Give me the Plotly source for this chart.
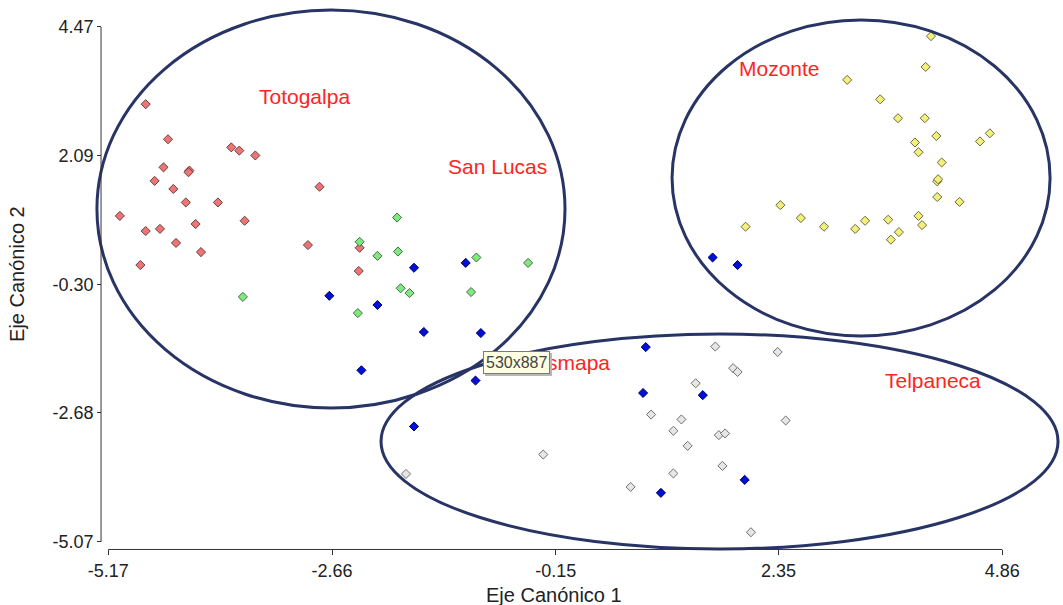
import plotly.graph_objects as go

# ---- data (canonical scores) ----
red_x = [-4.75, -4.50, -3.79, -3.70, -3.52, -4.55, -4.26, -4.27, -4.65, -4.44, -2.80, -4.30, -3.94,
         -5.04, -3.64, -4.75, -4.59, -4.19, -4.41, -4.13, -2.93, -4.81, -2.35, -2.36]
red_y = [3.04, 2.39, 2.24, 2.18, 2.09, 1.87, 1.81, 1.78, 1.62, 1.47, 1.51, 1.22, 1.22,
         0.97, 0.88, 0.69, 0.73, 0.82, 0.47, 0.30, 0.43, 0.06, 0.38, -0.05]

green_x = [-1.93, -2.35, -2.15, -1.92, -1.04, -0.46, -1.89, -1.79, -1.10, -2.37, -3.66]
green_y = [0.94, 0.49, 0.23, 0.31, 0.20, 0.10, -0.37, -0.46, -0.44, -0.83, -0.53]

blue_x = [-1.74, -1.16, -2.69, -2.15, -1.63, -0.99, -2.33, -1.05, -1.74, 0.86, 0.83, 1.50, 1.97, 1.03, 1.61, 1.89]
blue_y = [0.01, 0.10, -0.51, -0.68, -1.18, -1.20, -1.89, -2.08, -2.93, -1.46, -2.31, -2.35, -3.92, -4.16, 0.20, 0.06]

gray_x = [-0.29, -1.83, 1.64, 2.34, 1.84, 1.89, 1.42, 0.92, 1.26, 2.43, 1.17, 1.68, 1.75, 1.33, 1.72, 1.17, 0.69, 2.04]
gray_y = [-3.45, -3.81, -1.45, -1.55, -1.85, -1.92, -2.13, -2.71, -2.80, -2.82, -3.01, -3.09, -3.06, -3.29, -3.66, -3.80, -4.05, -4.89]

yellow_x = [4.06, 4.00, 3.12, 3.49, 3.69, 3.99, 4.12, 4.72, 4.61, 3.88, 3.92, 4.18, 4.13, 4.14, 4.13, 4.38,
            2.37, 2.60, 1.98, 2.86, 3.21, 3.32, 3.58, 3.92, 3.96, 3.70, 3.61]
yellow_y = [4.30, 3.73, 3.49, 3.13, 2.78, 2.78, 2.45, 2.50, 2.35, 2.33, 2.15, 1.96, 1.61, 1.65, 1.32, 1.23,
            1.17, 0.93, 0.77, 0.77, 0.73, 0.88, 0.90, 0.97, 0.80, 0.67, 0.53]

x_ticks = [-5.17, -2.66, -0.15, 2.35, 4.86]
y_ticks = [-5.07, -2.68, -0.30, 2.09, 4.47]

# group labels (the "Cu" of the last one is hidden by a tooltip in the reference)
group_names = ["Totogalpa", "San Lucas", "Mozonte", "Telpaneca", "smapa"]
group_label_x = [-3.50, -1.38, 1.88, 3.52, 0.48]
group_label_y = [3.19, 1.88, 3.71, -2.07, -1.74]
group_label_anchor = ["left", "left", "left", "left", "right"]

# ellipse extents (x0, x1, y0, y1)
ellipses = [
    (-5.297, -0.046, -2.588, 4.785),
    (1.155, 5.396, -1.254, 4.60),
    (-2.110, 5.485, -5.20, -1.217),
]

series = [
    (red_x, red_y, "#EE7575", "#6a4040"),
    (green_x, green_y, "#7EEA7E", "#4a6a4a"),
    (gray_x, gray_y, "#E6E6E6", "#707070"),
    (yellow_x, yellow_y, "#F2F07A", "#6a6a40"),
    (blue_x, blue_y, "#0010D8", "#000060"),
]

fig = go.Figure()
for xs, ys, fill, edge in series:
    fig.add_trace(go.Scatter(
        x=xs, y=ys, mode="markers",
        marker=dict(symbol="diamond", size=7, color=fill, line=dict(color=edge, width=1)),
        showlegend=False, hoverinfo="skip"))

ell_color = "#283465"
for (x0, x1, y0, y1) in ellipses:
    fig.add_shape(type="circle", xref="x", yref="y", x0=x0, x1=x1, y0=y0, y1=y1,
                  line=dict(color=ell_color, width=3), layer="above")

axis_col = "#333333"
YPOS = 0.0164
XPOS = 0.0188
fig.add_shape(type="line", xref="paper", yref="y", x0=YPOS, x1=YPOS, y0=y_ticks[0], y1=y_ticks[-1],
              line=dict(color=axis_col, width=1))
fig.add_shape(type="line", xref="x", yref="paper", x0=x_ticks[0], x1=x_ticks[-1], y0=XPOS, y1=XPOS,
              line=dict(color=axis_col, width=1))

for name, lx, ly, anc in zip(group_names, group_label_x, group_label_y, group_label_anchor):
    fig.add_annotation(x=lx, y=ly, xref="x", yref="y", text=name, showarrow=False,
                       xanchor=anc, yanchor="middle",
                       font=dict(family="Liberation Sans, Arial", size=21, color="#FF2424"))

# screenshot tooltip overlay present in the reference (with a soft shadow)
tip_font = dict(family="Liberation Sans, Arial", size=16, color="#444444")
fig.add_annotation(x=-0.59, y=-1.745, xref="x", yref="y", text="530x887", showarrow=False,
                   xanchor="center", yanchor="middle", bgcolor="#B8B8B8", bordercolor="#B8B8B8",
                   borderwidth=1, borderpad=2, xshift=2, yshift=-2,
                   font=dict(family="Liberation Sans, Arial", size=16, color="rgba(0,0,0,0)"))
fig.add_annotation(x=-0.59, y=-1.745, xref="x", yref="y", text="530x887", showarrow=False,
                   xanchor="center", yanchor="middle", bgcolor="#FFFFE1", bordercolor="#7a7a7a",
                   borderwidth=1, borderpad=2, font=tip_font)

fig.add_annotation(x=0.48, y=-0.062, xref="paper", yref="paper", text="Eje Canónico 1",
                   showarrow=False, xanchor="center", yanchor="middle",
                   font=dict(family="Liberation Sans, Arial", size=20, color="#222222"))
fig.add_annotation(x=-0.069, y=0.51, xref="paper", yref="paper", text="Eje Canónico 2",
                   showarrow=False, textangle=-90, xanchor="center", yanchor="middle",
                   font=dict(family="Liberation Sans, Arial", size=20, color="#222222"))

tick_font = dict(family="Liberation Sans, Arial", size=18, color="#222222")
fig.update_layout(
    width=1063, height=605,
    margin=dict(l=85, r=0, t=0, b=45),
    paper_bgcolor="white", plot_bgcolor="white",
    xaxis=dict(range=[-5.431, 5.541], tickvals=x_ticks, ticktext=[f"{v:.2f}" for v in x_ticks],
               showgrid=False, zeroline=False, showline=False, ticks="outside", ticklen=5,
               tickcolor=axis_col, tickfont=tick_font, anchor="free", position=XPOS),
    yaxis=dict(range=[-5.404, 4.970], tickvals=y_ticks, ticktext=[f"{v:.2f}" for v in y_ticks],
               showgrid=False, zeroline=False, showline=False, ticks="outside", ticklen=4,
               tickcolor=axis_col, tickfont=tick_font, anchor="free", position=YPOS),
)

fig.write_html("out.html", config={"displayModeBar": False},
               post_script="document.body.style.margin='0';document.body.style.padding='0';")
